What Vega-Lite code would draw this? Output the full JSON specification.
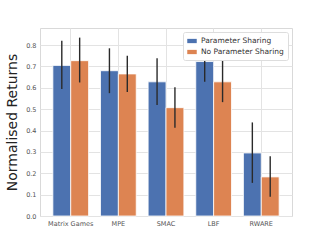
{
  "$schema": "https://vega.github.io/schema/vega-lite/v6.json",
  "width": 252,
  "height": 188,
  "autosize": {"type": "none"},
  "padding": {"left": 40, "top": 28, "right": 32, "bottom": 27},
  "background": "white",
  "config": {
    "view": {"stroke": "#d9d9d9", "strokeWidth": 1},
    "font": "DejaVu Sans"
  },
  "data": {
    "values": [
      {"env": "Matrix Games", "method": "Parameter Sharing", "mean": 0.705, "lo": 0.595, "hi": 0.82},
      {"env": "Matrix Games", "method": "No Parameter Sharing", "mean": 0.727, "lo": 0.625, "hi": 0.835},
      {"env": "MPE", "method": "Parameter Sharing", "mean": 0.68, "lo": 0.575, "hi": 0.785},
      {"env": "MPE", "method": "No Parameter Sharing", "mean": 0.665, "lo": 0.58, "hi": 0.75},
      {"env": "SMAC", "method": "Parameter Sharing", "mean": 0.628, "lo": 0.52, "hi": 0.738},
      {"env": "SMAC", "method": "No Parameter Sharing", "mean": 0.507, "lo": 0.413, "hi": 0.603},
      {"env": "LBF", "method": "Parameter Sharing", "mean": 0.723, "lo": 0.628, "hi": 0.82},
      {"env": "LBF", "method": "No Parameter Sharing", "mean": 0.628, "lo": 0.533, "hi": 0.73},
      {"env": "RWARE", "method": "Parameter Sharing", "mean": 0.295, "lo": 0.155, "hi": 0.438},
      {"env": "RWARE", "method": "No Parameter Sharing", "mean": 0.183, "lo": 0.09, "hi": 0.28}
    ]
  },
  "encoding": {
    "x": {
      "field": "env",
      "type": "nominal",
      "sort": ["Matrix Games", "MPE", "SMAC", "LBF", "RWARE"],
      "scale": {"paddingInner": 0.25, "paddingOuter": 0.27},
      "axis": {
        "title": null,
        "labelAngle": 0,
        "labelFontSize": 6.5,
        "labelColor": "#555555",
        "labelPadding": 4,
        "ticks": false,
        "domain": false,
        "grid": true,
        "gridColor": "#e3e3e3",
        "bandPosition": 0.5
      }
    },
    "xOffset": {
      "field": "method",
      "type": "nominal",
      "sort": ["Parameter Sharing", "No Parameter Sharing"],
      "scale": {"paddingInner": 0, "paddingOuter": 0}
    }
  },
  "layer": [
    {
      "mark": {"type": "bar", "stroke": "white", "strokeWidth": 0.8},
      "encoding": {
        "y": {
          "field": "mean",
          "type": "quantitative",
          "scale": {"domain": [0, 0.88], "nice": false},
          "axis": {
            "title": "Normalised Returns",
            "titleFontSize": 14,
            "titleFontWeight": "normal",
            "titleColor": "#222222",
            "titlePadding": 6,
            "values": [0, 0.1, 0.2, 0.3, 0.4, 0.5, 0.6, 0.7, 0.8],
            "format": ".1f",
            "labelOverlap": false,
            "labelFontSize": 6.5,
            "labelColor": "#555555",
            "labelPadding": 4,
            "ticks": false,
            "domain": false,
            "gridColor": "#e3e3e3"
          }
        },
        "color": {
          "field": "method",
          "type": "nominal",
          "sort": ["Parameter Sharing", "No Parameter Sharing"],
          "scale": {"range": ["#4C72B0", "#DD8452"]},
          "legend": {
            "title": null,
            "orient": "top-right",
            "offset": 4,
            "symbolType": "M-1,-0.45H1V0.45H-1Z",
            "symbolSize": 90,
            "symbolStrokeWidth": 0,
            "labelFontSize": 7.5,
            "labelColor": "#333333",
            "strokeColor": "#dddddd",
            "fillColor": "white",
            "padding": 4,
            "rowPadding": 2,
            "cornerRadius": 2
          }
        }
      }
    },
    {
      "mark": {"type": "rule", "color": "#2a2a2a", "strokeWidth": 1.4},
      "encoding": {
        "y": {
          "field": "lo",
          "type": "quantitative",
          "axis": {
            "title": "Normalised Returns",
            "titleFontSize": 14,
            "titleFontWeight": "normal",
            "titleColor": "#222222",
            "titlePadding": 6,
            "values": [0, 0.1, 0.2, 0.3, 0.4, 0.5, 0.6, 0.7, 0.8],
            "format": ".1f",
            "labelOverlap": false,
            "labelFontSize": 6.5,
            "labelColor": "#555555",
            "labelPadding": 4,
            "ticks": false,
            "domain": false,
            "gridColor": "#e3e3e3"
          }
        },
        "y2": {"field": "hi"}
      }
    }
  ]
}
